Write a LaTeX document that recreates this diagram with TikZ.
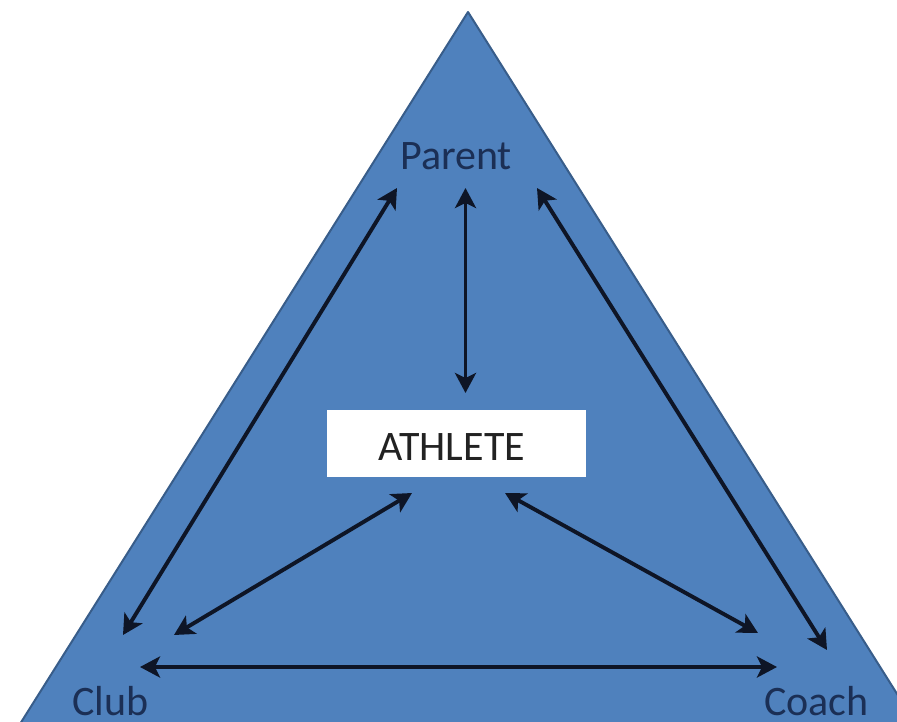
\documentclass[tikz,border=0pt]{standalone}
\usepackage{fontspec}
\setmainfont{Carlito}
\usetikzlibrary{arrows.meta}
\definecolor{triblue}{HTML}{4F81BD}
\definecolor{triedge}{HTML}{385D8A}
\definecolor{navytext}{HTML}{1B2F55}
\definecolor{arrowcol}{HTML}{0E1526}
\definecolor{athtext}{HTML}{222222}
\tikzset{
  lbl/.style={inner sep=0pt, text depth=0pt, font=\fontsize{42}{50}\selectfont, text=navytext},
  athlbl/.style={inner sep=0pt, text depth=0pt, font=\fontsize{42}{50}\selectfont, text=athtext},
  whitebox/.style={fill=white, draw=none, minimum width=259pt, minimum height=67pt, inner sep=0pt},
  dbl/.style={line width=3.9pt, draw=arrowcol, {Stealth[length=20pt,width=21pt,inset=5pt]}-{Stealth[length=20pt,width=21pt,inset=5pt]}}
}
\begin{document}
\begin{tikzpicture}[x=1pt,y=-1pt]
\useasboundingbox (0,0) rectangle (897,722);
\fill[white] (0,0) rectangle (897,722);
\clip (0,0) rectangle (897,722);
% triangle
\draw[fill=triblue, draw=triedge, line width=2pt, line join=round] (468,12) -- (916,724) -- (20,724) -- cycle;
% labels
\node[lbl, anchor=base west] (parent) at (400,170) {Parent};
\node[lbl, anchor=base west] (club) at (72,715) {Club};
\node[lbl, anchor=base west] (coach) at (764,715) {Coach};
\node[whitebox] (athlete) at (456.5,443) {};
\node[athlbl, anchor=base west] (athletetext) at (378,460) {ATHLETE};
% arrow ends
\coordinate (pl1) at (397,188);
\coordinate (pl2) at (123,635);
\coordinate (pc1) at (465.5,188);
\coordinate (pc2) at (465.5,393);
\coordinate (pr1) at (537,188);
\coordinate (pr2) at (827,650);
\coordinate (al1) at (412,493);
\coordinate (al2) at (174,635);
\coordinate (ar1) at (505,493);
\coordinate (ar2) at (758,633);
\coordinate (b1) at (140,667);
\coordinate (b2) at (777,667);
% arrows
\draw[dbl] (pl1) -- (pl2);
\draw[dbl] (pc1) -- (pc2);
\draw[dbl] (pr1) -- (pr2);
\draw[dbl] (al1) -- (al2);
\draw[dbl] (ar1) -- (ar2);
\draw[dbl] (b1) -- (b2);
\end{tikzpicture}
\end{document}
